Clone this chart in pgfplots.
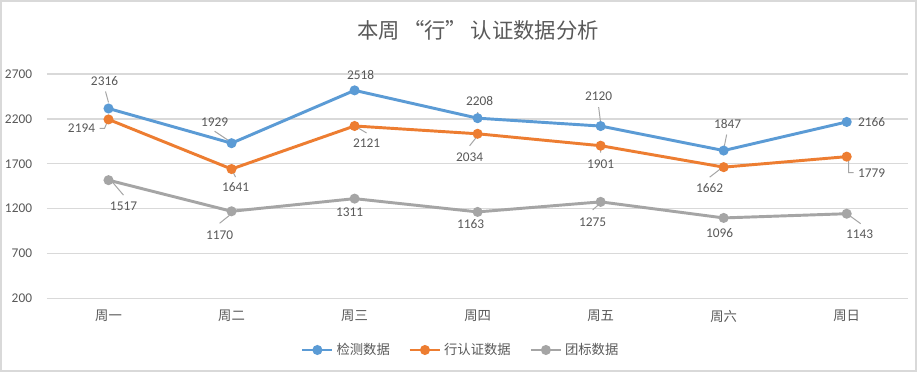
\documentclass[border=0pt]{standalone}
\usepackage{fontspec}
\setmainfont{Carlito}
\newfontfamily\cjk{Noto Sans CJK SC}
\usepackage{pgfplots}
\pgfplotsset{compat=1.18}
\usepackage{pgfplotstable}
\definecolor{cblue}{HTML}{5B9BD5}
\definecolor{corange}{HTML}{ED7D31}
\definecolor{cgray}{HTML}{A5A5A5}
\definecolor{ctext}{HTML}{595959}
\definecolor{cgrid}{HTML}{D9D9D9}
\definecolor{cleader}{HTML}{A6A6A6}

\pgfplotstableread{
i v
0 2316
1 1929
2 2518
3 2208
4 2120
5 1847
6 2166
}\jiance
\pgfplotstableread{
i v
0 2194
1 1641
2 2121
3 2034
4 1901
5 1662
6 1779
}\hangrz
\pgfplotstableread{
i v
0 1517
1 1170
2 1311
3 1163
4 1275
5 1096
6 1143
}\tuanbiao
% label offsets in px (x right, y down), per point
\def\bdx{{-4,-17,6,2,-2,4,25}}
\def\bdy{{-27,-21,-15,-17,-30,-27,0}}
\def\odx{{-27,4,12,-8,0,-14,25}}
\def\ody{{9,18,17,23,19,21,17}}
\def\gdx{{15,-12,-5,-7,-8,-4,13}}
\def\gdy{{26,24,14,12,20,15,21}}
% leader line segments (data units), separated by nan
\pgfplotstableread{
x y
-0.0244 2505.5
0.0 2382.9
nan nan
0.8619 2062.8
0.9838 1951.3
nan nan
3.0 2274.9
3.0081 2230.3
nan nan
3.9838 2331.8
4.0 2153.5
nan nan
5.0244 2025.3
5.0 1858.1
nan nan
-0.0731 2093.7
-0.0325 2093.7
-0.0081 2171.7
nan nan
1.0081 1618.7
1.0325 1551.8
nan nan
2.0162 2109.9
2.0974 2043.0
nan nan
3.0 2011.7
2.935 1900.2
nan nan
4.0 1878.7
4.0 1823.0
nan nan
4.8863 1550.5
4.9919 1662.0
nan nan
6.0162 1745.6
6.0162 1600.7
6.0568 1600.7
nan nan
0.0325 1494.7
0.1219 1349.8
nan nan
0.9838 1125.4
0.9026 1036.2
nan nan
3.935 1185.8
3.9919 1252.7
nan nan
6.0244 1120.7
6.1138 1031.5
}\leaders

\begin{document}
\begin{tikzpicture}
\useasboundingbox (-35.25pt,-55.275pt) rectangle (654pt,223.725pt);
\fill[white] (-35.25pt,-55.275pt) rectangle (654pt,223.725pt);
\draw[cgrid, line width=1.5pt] (-34.125pt,-54.15pt) rectangle (651.75pt,222.6pt);
\begin{axis}[
  at={(0,0)}, anchor=south west,
  scale only axis,
  width=645.9pt, height=168.2pt,
  xmin=-0.5, xmax=6.5,
  ymin=200, ymax=2700,
  ytick={200,700,1200,1700,2200,2700},
  xtick={0,1,2,3,4,5,6},
  xticklabels={周一,周二,周三,周四,周五,周六,周日},
  axis line style={draw=none},
  major tick length=0pt,
  ymajorgrids,
  grid style={cgrid, line width=1.1pt},
  clip=false,
  unbounded coords=jump,
  /pgf/number format/.cd, 1000 sep={}, assume math mode=true,
  /pgfplots/.cd,
  yticklabel style={font=\fontsize{10}{12}\selectfont, text=ctext, xshift=-7.7pt},
  xticklabel style={font=\cjk\fontsize{10}{12}\selectfont, text=ctext, anchor=center, yshift=-13.3pt},
  legend columns=3,
  legend style={at={(0.4807,-0.2305)}, anchor=center, draw=none, fill=none,
    font=\cjk\fontsize{10}{12}\selectfont, text=ctext,
    /tikz/every even column/.append style={column sep=12pt}},
  legend image code/.code={\draw[#1,mark repeat=2,mark phase=2] plot coordinates {(0pt,0pt) (11.25pt,0pt) (22.5pt,0pt)};},
  every node near coord/.append style={font=\fontsize{10}{12}\selectfont, text=ctext, anchor=center},
]
\addplot[cleader, line width=0.75pt, no markers, forget plot] table[x=x, y=y] {\leaders};
\addplot[cblue, line width=2.2pt, mark=*, mark size=2.6pt, forget plot,
  nodes near coords,
  every node near coord/.append style={xshift={0.75pt*\bdx[\coordindex]}, yshift={-0.75pt*\bdy[\coordindex]}}]
  table[x=i, y=v] {\jiance};
\addplot[corange, line width=2.2pt, mark=*, mark size=2.6pt, forget plot,
  nodes near coords,
  every node near coord/.append style={xshift={0.75pt*\odx[\coordindex]}, yshift={-0.75pt*\ody[\coordindex]}}]
  table[x=i, y=v] {\hangrz};
\addplot[cgray, line width=2.2pt, mark=*, mark size=2.6pt, forget plot,
  nodes near coords,
  every node near coord/.append style={xshift={0.75pt*\gdx[\coordindex]}, yshift={-0.75pt*\gdy[\coordindex]}}]
  table[x=i, y=v] {\tuanbiao};
\addlegendimage{cblue, line width=2.2pt, mark=*, mark size=2.6pt}
\addlegendentry{检测数据}
\addlegendimage{corange, line width=2.2pt, mark=*, mark size=2.6pt}
\addlegendentry{行认证数据}
\addlegendimage{cgray, line width=2.2pt, mark=*, mark size=2.6pt}
\addlegendentry{团标数据}
\end{axis}
\node[text=ctext, font=\cjk\fontsize{16}{19}\selectfont] at (323.25pt,201.2pt) {本周\,“行”\,认证数据分析};
\end{tikzpicture}
\end{document}
